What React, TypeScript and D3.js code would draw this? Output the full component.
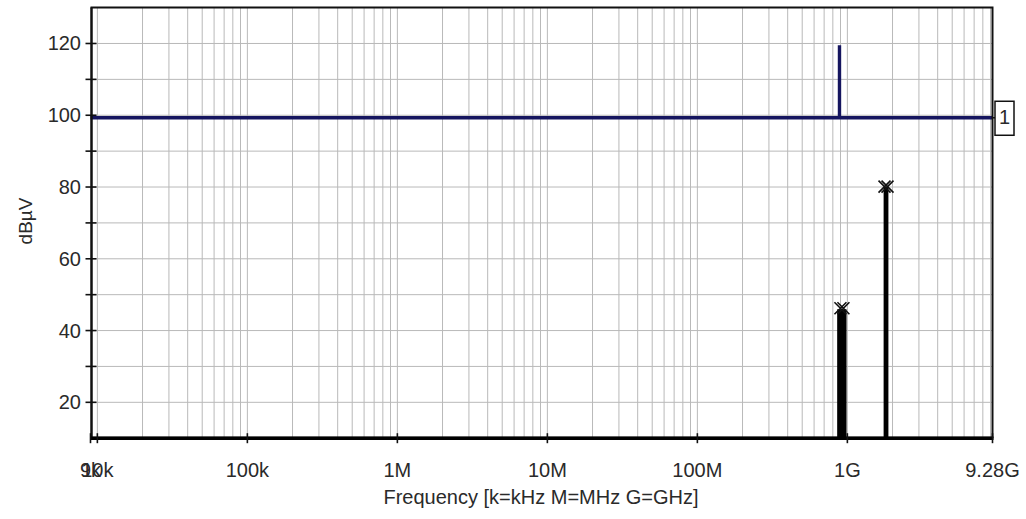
import React from 'react';
import * as d3 from 'd3';

// Axis ranges
const freqDomain: [number, number] = [9e3, 9.28e9];
const levelDomain: [number, number] = [10, 130];

// Tick values and labels
const xTickValues = [9e3, 1e4, 1e5, 1e6, 1e7, 1e8, 1e9, 9.28e9];
const xTickLabels = ['9k', '10k', '100k', '1M', '10M', '100M', '1G', '9.28G'];
const yMajorTicks = [20, 40, 60, 80, 100, 120];
const yMinorTicks = [30, 50, 70, 90, 110];
const yGridLevels = [20, 30, 40, 50, 60, 70, 80, 90, 100, 110, 120];

// Trace 1 (limit line, blue): flat level with a single spike
const limitFreq = [9e3, 0.886e9, 0.886e9, 0.886e9, 9.28e9];
const limitLevel = [99.3, 99.3, 119.5, 99.3, 99.3];
const limitLabel = '1';

// Measured emissions (black): bands rising from the noise floor
const bandStart = [0.875e9, 1.785e9];
const bandStop = [0.965e9, 1.835e9];
const bandLevel = [45.5, 79.5];
const floorLevel = 10;

// Peak markers
const peakFreq = [0.92e9, 1.81e9];
const peakLevel = [46.2, 80.1];

const W = 1026;
const H = 519;
const plot = { left: 90.5, right: 992.5, top: 7.6, bottom: 438.2 };
const FONT = "'Liberation Sans', Arial, sans-serif";
const TEXT = '#2a2a2a';

export default function App() {
  const x = d3.scaleLog().domain(freqDomain).range([plot.left, plot.right]);
  const y = d3.scaleLinear().domain(levelDomain).range([plot.bottom, plot.top]);

  // Vertical grid: 1..9 × each decade inside the domain
  const gridFreqs: number[] = [];
  for (let e = 3; e <= 9; e++) {
    for (let m = 1; m <= 9; m++) {
      const f = m * Math.pow(10, e);
      if (f > freqDomain[0] && f < freqDomain[1]) gridFreqs.push(f);
    }
  }

  const line = d3
    .line<number>()
    .x((_, i) => x(limitFreq[i]))
    .y((d) => y(d));
  const limitPath = line(limitLevel) || '';

  // Emission trace: floor -> band -> floor
  const emPts: [number, number][] = [[freqDomain[0], floorLevel]];
  bandStart.forEach((s, i) => {
    emPts.push([s, floorLevel], [s, bandLevel[i]], [bandStop[i], bandLevel[i]], [bandStop[i], floorLevel]);
  });
  emPts.push([freqDomain[1], floorLevel]);
  const emPath =
    d3
      .line<[number, number]>()
      .x((d) => x(d[0]))
      .y((d) => y(d[1]))(emPts) || '';

  const yLimitEnd = y(limitLevel[limitLevel.length - 1]);

  return (
    <svg
      width={W}
      height={H}
      style={{ position: 'absolute', left: 0, top: 0, background: '#fff' }}
      fontFamily={FONT}
    >
      <rect x={0} y={0} width={W} height={H} fill="#fff" />

      {/* grid */}
      <g stroke="#b9b9b9" strokeWidth={1}>
        {gridFreqs.map((f) => (
          <line key={'gx' + f} x1={x(f)} x2={x(f)} y1={plot.top} y2={plot.bottom} />
        ))}
        {yGridLevels.map((v) => (
          <line key={'gy' + v} x1={plot.left} x2={plot.right} y1={y(v)} y2={y(v)} />
        ))}
      </g>

      {/* limit line */}
      <path d={limitPath} fill="none" stroke="#15155f" strokeWidth={3.4} strokeLinejoin="miter" />
      <line x1={plot.right} x2={995} y1={yLimitEnd} y2={yLimitEnd} stroke="#111" strokeWidth={1.5} />
      <rect x={995} y={yLimitEnd - 16.5} width={19} height={34} fill="#fff" stroke="#111" strokeWidth={1.5} />
      <text x={1004.5} y={yLimitEnd + 1} textAnchor="middle" dominantBaseline="middle" fontSize={20} fill={TEXT}>
        {limitLabel}
      </text>

      {/* emissions */}
      <path d={emPath} fill="#000" stroke="#000" strokeWidth={3} strokeLinejoin="miter" />

      {/* peak markers */}
      <g stroke="#111" strokeWidth={1.6} fill="none">
        {peakFreq.map((f, i) => {
          const cx = x(f);
          const cy = y(peakLevel[i]);
          const r = 6;
          return (
            <g key={'pk' + i}>
              {[-1.5, 1.5].map((dx) => (
                <path
                  key={dx}
                  d={`M${cx + dx - r},${cy - r}L${cx + dx + r},${cy + r}M${cx + dx - r},${cy + r}L${cx + dx + r},${cy - r}`}
                />
              ))}
            </g>
          );
        })}
      </g>

      {/* frame */}
      <path
        d={`M${plot.left},${plot.top}H${plot.right}V${plot.bottom}`}
        fill="none"
        stroke="#111"
        strokeWidth={2}
      />
      <line x1={plot.left + 1} x2={plot.left + 1} y1={plot.top} y2={plot.bottom + 1} stroke="#111" strokeWidth={2.5} />
      <line x1={plot.left} x2={plot.right + 1} y1={plot.bottom} y2={plot.bottom} stroke="#000" strokeWidth={3.5} />

      {/* y axis ticks and labels */}
      <g stroke="#111" strokeWidth={1.6}>
        {[...yMajorTicks, ...yMinorTicks].map((v) => (
          <line key={'yt' + v} x1={plot.left - 5} x2={plot.left + 6} y1={y(v)} y2={y(v)} />
        ))}
      </g>
      <g fontSize={20} fill={TEXT} textAnchor="end">
        {yMajorTicks.map((v) => (
          <text key={'yl' + v} x={81} y={y(v) + 7}>
            {v}
          </text>
        ))}
      </g>
      <text
        transform={`translate(32,221) rotate(-90)`}
        textAnchor="middle"
        fontSize={19}
        fill={TEXT}
      >
        dBµV
      </text>

      {/* x axis ticks and labels */}
      <g stroke="#111" strokeWidth={1.6}>
        {xTickValues.map((f) => (
          <line key={'xt' + f} x1={x(f)} x2={x(f)} y1={plot.bottom - 5} y2={plot.bottom + 5} />
        ))}
      </g>
      <g fontSize={20} fill={TEXT} textAnchor="middle">
        {xTickValues.map((f, i) => (
          <text key={'xl' + f} x={x(f)} y={477}>
            {xTickLabels[i]}
          </text>
        ))}
      </g>
      <text x={541} y={504} textAnchor="middle" fontSize={20} fill={TEXT}>
        Frequency [k=kHz M=MHz G=GHz]
      </text>
    </svg>
  );
}
